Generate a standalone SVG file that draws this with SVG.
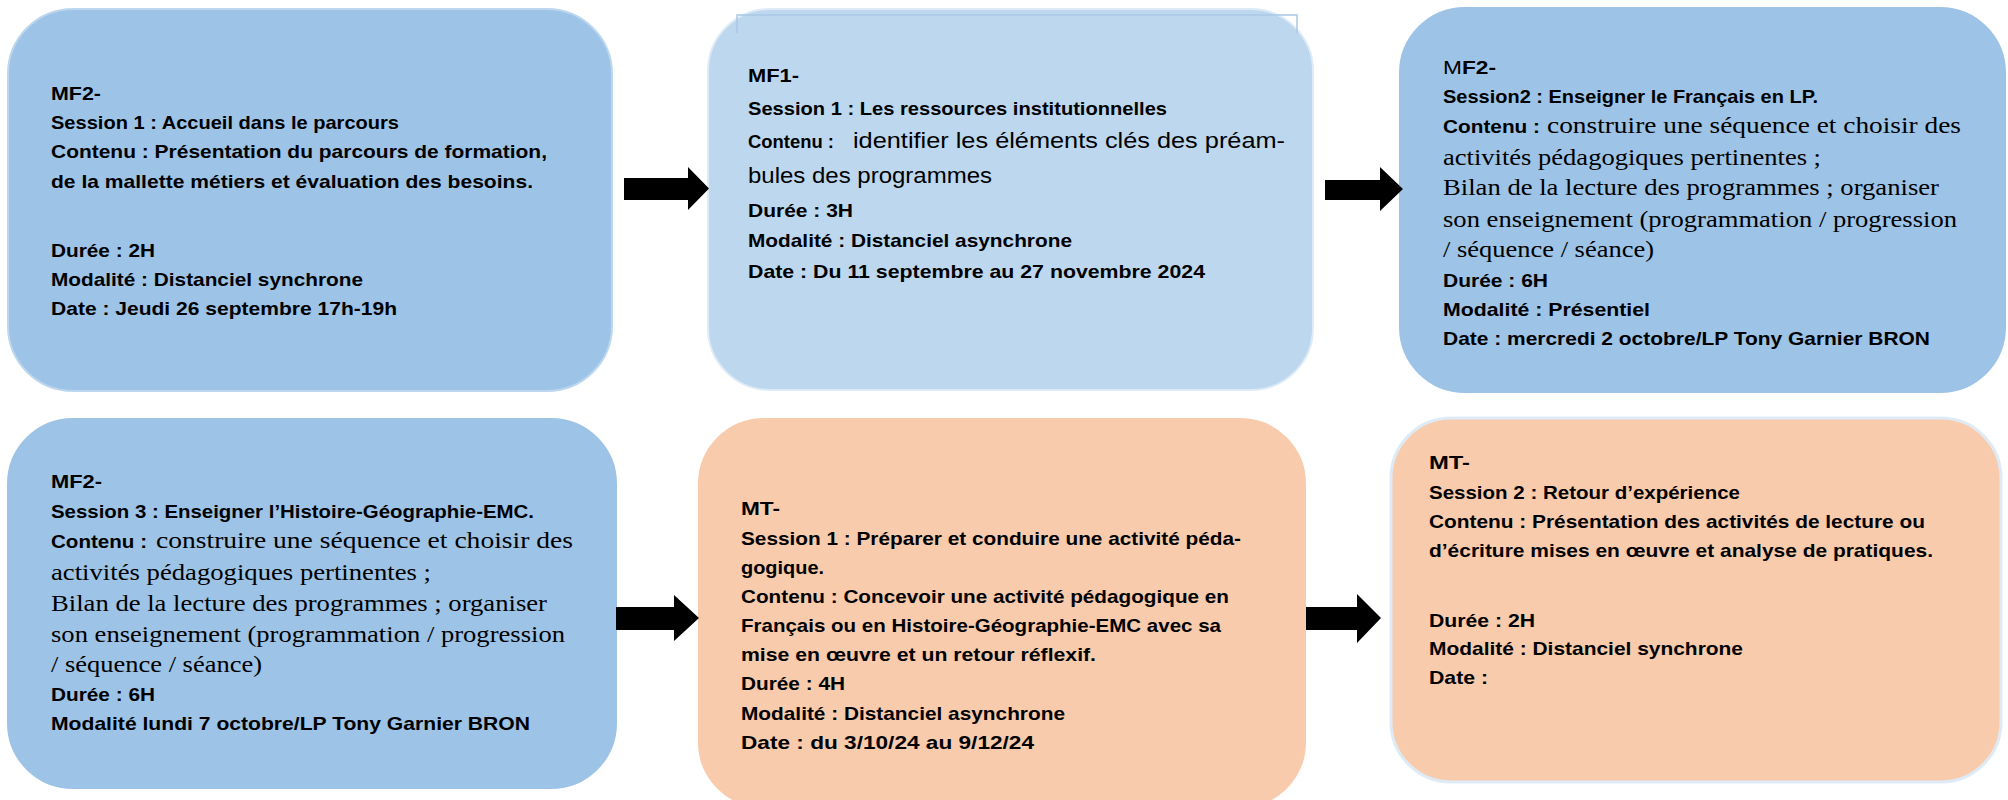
<svg xmlns="http://www.w3.org/2000/svg" width="2008" height="800" viewBox="0 0 2008 800">
<style>
.b{font-family:"Liberation Sans",Arial,sans-serif;font-weight:bold;font-size:19px;fill:#000}
.r{font-family:"Liberation Sans",Arial,sans-serif;font-weight:normal;font-size:22px;fill:#000}
.s{font-family:"Liberation Serif","Times New Roman",serif;font-weight:normal;font-size:22.5px;fill:#000}
.blue{fill:#9DC3E6;stroke:#BDD7EE;stroke-width:2}
.pale{fill:#BDD7EE;stroke:#DEEBF7;stroke-width:2}
.peach{fill:#F8CBAD;stroke:#F8CBAD;stroke-width:2}
.peach2{fill:#F8CBAD;stroke:#DEEBF7;stroke-width:3}
.arrow{fill:#000}
</style>
<rect width="2008" height="800" fill="#fff"/>
<g id="node1">
<rect class="blue" x="8" y="9" width="604" height="382" rx="65"/>
<text class="b" x="51" y="100" textLength="50" lengthAdjust="spacingAndGlyphs">MF2-</text>
<text class="b" x="51" y="129" textLength="348" lengthAdjust="spacingAndGlyphs">Session 1 : Accueil dans le parcours</text>
<text class="b" x="51" y="158" textLength="496" lengthAdjust="spacingAndGlyphs">Contenu : Présentation du parcours de formation,</text>
<text class="b" x="51" y="188" textLength="482" lengthAdjust="spacingAndGlyphs">de la mallette métiers et évaluation des besoins.</text>
<text class="b" x="51" y="257" textLength="104" lengthAdjust="spacingAndGlyphs">Durée : 2H</text>
<text class="b" x="51" y="286" textLength="312" lengthAdjust="spacingAndGlyphs">Modalité : Distanciel synchrone</text>
<text class="b" x="51" y="315" textLength="346" lengthAdjust="spacingAndGlyphs">Date : Jeudi 26 septembre 17h-19h</text>
</g>
<g id="node2">
<rect class="pale" x="708" y="9" width="605" height="381" rx="62"/>
<path d="M737,33 V15 H1297 V33" fill="none" stroke="#A9C8E6" stroke-width="1.5"/>
<text class="b" x="748" y="82" textLength="51" lengthAdjust="spacingAndGlyphs">MF1-</text>
<text class="b" x="748" y="115" textLength="419" lengthAdjust="spacingAndGlyphs">Session 1 : Les ressources institutionnelles</text>
<text class="b" x="748" y="148" textLength="86" lengthAdjust="spacingAndGlyphs">Contenu :</text>
<text class="r" x="853" y="148" textLength="432" lengthAdjust="spacingAndGlyphs">identifier les éléments clés des préam-</text>
<text class="r" x="748" y="183" textLength="244" lengthAdjust="spacingAndGlyphs">bules des programmes</text>
<text class="b" x="748" y="217" textLength="105" lengthAdjust="spacingAndGlyphs">Durée : 3H</text>
<text class="b" x="748" y="247" textLength="324" lengthAdjust="spacingAndGlyphs">Modalité : Distanciel asynchrone</text>
<text class="b" x="748" y="278" textLength="457" lengthAdjust="spacingAndGlyphs">Date : Du 11 septembre au 27 novembre 2024</text>
</g>
<g id="node3">
<rect class="blue" x="1400" y="8" width="605" height="384" rx="65" style="stroke:#9DC3E6"/>
<text class="b" x="1443" y="74" textLength="53" lengthAdjust="spacingAndGlyphs"><tspan font-weight="normal">M</tspan>F2-</text>
<text class="b" x="1443" y="103" textLength="375" lengthAdjust="spacingAndGlyphs">Session2 : Enseigner le Français en LP.</text>
<text class="b" x="1443" y="133" textLength="97" lengthAdjust="spacingAndGlyphs">Contenu :</text>
<text class="s" x="1547" y="133" textLength="414" lengthAdjust="spacingAndGlyphs">construire une séquence et choisir des</text>
<text class="s" x="1443" y="165" textLength="378" lengthAdjust="spacingAndGlyphs">activités pédagogiques pertinentes ;</text>
<text class="s" x="1443" y="195" textLength="496" lengthAdjust="spacingAndGlyphs">Bilan de la lecture des programmes ; organiser</text>
<text class="s" x="1443" y="227" textLength="514" lengthAdjust="spacingAndGlyphs">son enseignement (programmation / progression</text>
<text class="s" x="1443" y="257" textLength="211" lengthAdjust="spacingAndGlyphs">/ séquence / séance)</text>
<text class="b" x="1443" y="287" textLength="105" lengthAdjust="spacingAndGlyphs">Durée : 6H</text>
<text class="b" x="1443" y="316" textLength="207" lengthAdjust="spacingAndGlyphs">Modalité : Présentiel</text>
<text class="b" x="1443" y="345" textLength="487" lengthAdjust="spacingAndGlyphs">Date : mercredi 2 octobre/LP Tony Garnier BRON</text>
</g>
<g id="node4">
<rect class="blue" x="8" y="419" width="608" height="369" rx="65" style="stroke:#9DC3E6"/>
<text class="b" x="51" y="488" textLength="51" lengthAdjust="spacingAndGlyphs">MF2-</text>
<text class="b" x="51" y="518" textLength="483" lengthAdjust="spacingAndGlyphs">Session 3 : Enseigner l’Histoire-Géographie-EMC.</text>
<text class="b" x="51" y="548" textLength="96" lengthAdjust="spacingAndGlyphs">Contenu :</text>
<text class="s" x="156" y="548" textLength="417" lengthAdjust="spacingAndGlyphs">construire une séquence et choisir des</text>
<text class="s" x="51" y="580" textLength="380" lengthAdjust="spacingAndGlyphs">activités pédagogiques pertinentes ;</text>
<text class="s" x="51" y="611" textLength="496" lengthAdjust="spacingAndGlyphs">Bilan de la lecture des programmes ; organiser</text>
<text class="s" x="51" y="642" textLength="514" lengthAdjust="spacingAndGlyphs">son enseignement (programmation / progression</text>
<text class="s" x="51" y="672" textLength="211" lengthAdjust="spacingAndGlyphs">/ séquence / séance)</text>
<text class="b" x="51" y="701" textLength="104" lengthAdjust="spacingAndGlyphs">Durée : 6H</text>
<text class="b" x="51" y="730" textLength="479" lengthAdjust="spacingAndGlyphs">Modalité lundi 7 octobre/LP Tony Garnier BRON</text>
</g>
<g id="node5">
<rect class="peach" x="699" y="419" width="606" height="388" rx="65"/>
<text class="b" x="741" y="515" textLength="39" lengthAdjust="spacingAndGlyphs">MT-</text>
<text class="b" x="741" y="545" textLength="500" lengthAdjust="spacingAndGlyphs">Session 1 : Préparer et conduire une activité péda-</text>
<text class="b" x="741" y="574" textLength="83" lengthAdjust="spacingAndGlyphs">gogique.</text>
<text class="b" x="741" y="603" textLength="488" lengthAdjust="spacingAndGlyphs">Contenu : Concevoir une activité pédagogique en</text>
<text class="b" x="741" y="632" textLength="480" lengthAdjust="spacingAndGlyphs">Français ou en Histoire-Géographie-EMC avec sa</text>
<text class="b" x="741" y="661" textLength="355" lengthAdjust="spacingAndGlyphs">mise en œuvre et un retour réflexif.</text>
<text class="b" x="741" y="690" textLength="104" lengthAdjust="spacingAndGlyphs">Durée : 4H</text>
<text class="b" x="741" y="720" textLength="324" lengthAdjust="spacingAndGlyphs">Modalité : Distanciel asynchrone</text>
<text class="b" x="741" y="749" textLength="293" lengthAdjust="spacingAndGlyphs">Date : du 3/10/24 au 9/12/24</text>
</g>
<g id="node6">
<rect class="peach2" x="1391" y="418" width="610" height="364" rx="60"/>
<text class="b" x="1429" y="469" textLength="41" lengthAdjust="spacingAndGlyphs">MT-</text>
<text class="b" x="1429" y="499" textLength="311" lengthAdjust="spacingAndGlyphs">Session 2 : Retour d’expérience</text>
<text class="b" x="1429" y="528" textLength="496" lengthAdjust="spacingAndGlyphs">Contenu : Présentation des activités de lecture ou</text>
<text class="b" x="1429" y="557" textLength="504" lengthAdjust="spacingAndGlyphs">d’écriture mises en œuvre et analyse de pratiques.</text>
<text class="b" x="1429" y="627" textLength="106" lengthAdjust="spacingAndGlyphs">Durée : 2H</text>
<text class="b" x="1429" y="655" textLength="314" lengthAdjust="spacingAndGlyphs">Modalité : Distanciel synchrone</text>
<text class="b" x="1429" y="684" textLength="59" lengthAdjust="spacingAndGlyphs">Date :</text>
</g>
<g id="connectors">
<polygon class="arrow" points="624,178 688,178 688,167 709,188.5 688,210 688,200 624,200"/>
<polygon class="arrow" points="1325,180 1380,180 1380,167 1403,189 1380,211 1380,200 1325,200"/>
<polygon class="arrow" points="616,607 674,607 674,595 699,618 674,641 674,630 616,630"/>
<polygon class="arrow" points="1306,607 1357,607 1357,594 1381,618 1357,643 1357,630 1306,630"/>
</g>
</svg>
